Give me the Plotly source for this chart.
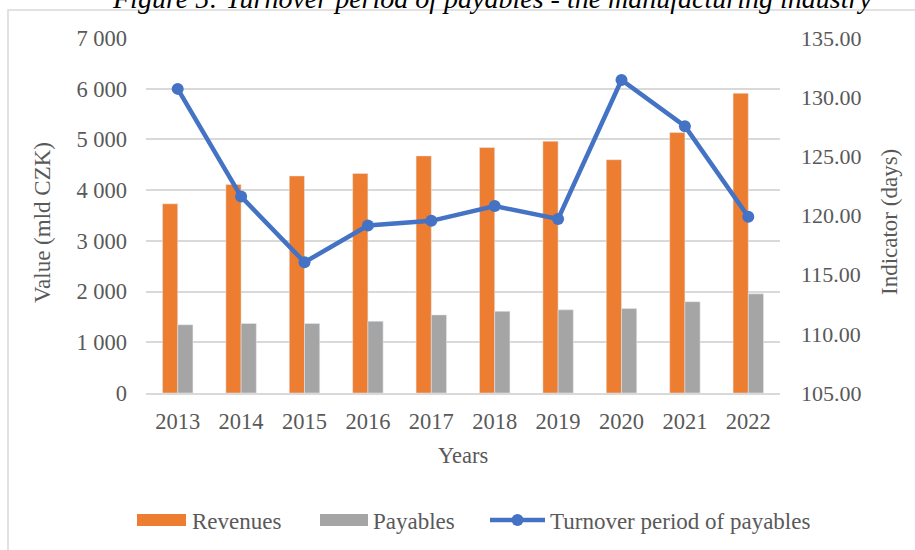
import plotly.graph_objects as go

years = ["2013", "2014", "2015", "2016", "2017", "2018", "2019", "2020", "2021", "2022"]
revenues = [3730, 4110, 4280, 4330, 4675, 4840, 4965, 4600, 5135, 5910]
payables = [1345, 1370, 1370, 1415, 1540, 1610, 1640, 1665, 1800, 1955]
turnover = [130.7, 121.6, 116.05, 119.15, 119.55, 120.8, 119.7, 131.45, 127.55, 119.9]

left_ticks = [0, 1000, 2000, 3000, 4000, 5000, 6000, 7000]
right_ticks = [105, 110, 115, 120, 125, 130, 135]

title_text = "Figure 5: Turnover period of payables - the manufacturing industry"
legend_names = ["Revenues", "Payables", "Turnover period of payables"]

C_REV = "#ED7D31"
C_PAY = "#A5A5A5"
C_LINE = "#4472C4"
C_TXT = "#595959"
C_GRID = "#D9D9D9"
FONT = "Liberation Serif"

W, H = 915, 550
L, R, T, B = 146, 135, 38, 157
PW, PH = W - L - R, H - T - B


def px(x):
    return (x - L) / PW


def py(y):
    return (H - B - y) / PH


fig = go.Figure()
fig.add_trace(go.Bar(x=years, y=revenues, name=legend_names[0], marker_color=C_REV,
                     showlegend=False))
fig.add_trace(go.Bar(x=years, y=payables, name=legend_names[1], marker_color=C_PAY,
                     showlegend=False))
fig.add_trace(go.Scatter(x=years, y=turnover, name=legend_names[2], yaxis="y2",
                         mode="lines+markers", line=dict(color=C_LINE, width=4.5),
                         marker=dict(color=C_LINE, size=12), showlegend=False))

tick_font = dict(family=FONT, size=22.5, color=C_TXT)
title_font = dict(family=FONT, size=23, color=C_TXT)
legend_font = dict(family=FONT, size=23, color=C_TXT)

fig.update_layout(
    width=W, height=H,
    margin=dict(l=L, r=R, t=T, b=B, pad=0),
    paper_bgcolor="white", plot_bgcolor="white",
    separators=". ",
    barmode="group", bargap=0.52, bargroupgap=0,
    xaxis=dict(type="category", range=[-0.5, len(years) - 0.5], showgrid=False,
               showline=True, linecolor=C_GRID, linewidth=1.5, ticks="",
               tickfont=tick_font, ticklabelstandoff=7, fixedrange=True),
    yaxis=dict(range=[0, 7000], tickvals=left_ticks, tickformat=",", showgrid=True,
               gridcolor=C_GRID, gridwidth=1.5, zeroline=False, showline=False,
               ticks="", tickfont=tick_font, ticklabelstandoff=18),
    yaxis2=dict(range=[105, 135], tickvals=right_ticks, tickformat=".2f",
                overlaying="y", side="right", showgrid=False, zeroline=False,
                showline=False, ticks="", tickfont=dict(tick_font, size=22),
                ticklabelstandoff=20),
    showlegend=False,
)

ann = []
# title (partly cut off at the top, as in the source image)
ann.append(dict(text="<i>" + title_text + "</i>", xref="paper", yref="paper",
                x=px(491.5), y=py(16), xanchor="center", yanchor="bottom",
                showarrow=False, font=dict(family=FONT, size=28, color="black")))
# axis titles
ann.append(dict(text="Value (mld CZK)", xref="paper", yref="paper", x=px(42),
                y=py(223), xanchor="center", yanchor="middle", textangle=-90,
                showarrow=False, font=title_font))
ann.append(dict(text="Indicator (days)", xref="paper", yref="paper", x=px(889),
                y=py(222), xanchor="center", yanchor="middle", textangle=-90,
                showarrow=False, font=title_font))
ann.append(dict(text="Years", xref="paper", yref="paper", x=px(463),
                y=py(455.5), xanchor="center", yanchor="middle",
                showarrow=False, font=tick_font))
# legend texts
for xt, name in zip([190, 371, 547.5], legend_names):
    ann.append(dict(text=name, xref="paper", yref="paper", x=px(xt), y=py(521),
                    xanchor="left", yanchor="middle", showarrow=False, font=legend_font))

shapes = []
# outer frame
shapes.append(dict(type="rect", xref="paper", yref="paper", x0=px(8), x1=px(930),
                   y0=py(10), y1=py(570), line=dict(color=C_GRID, width=1.5),
                   fillcolor="rgba(0,0,0,0)", layer="below"))
# legend swatches
shapes.append(dict(type="rect", xref="paper", yref="paper", x0=px(137), x1=px(186),
                   y0=py(526), y1=py(514), line=dict(width=0), fillcolor=C_REV))
shapes.append(dict(type="rect", xref="paper", yref="paper", x0=px(320), x1=px(368),
                   y0=py(526), y1=py(514), line=dict(width=0), fillcolor=C_PAY))
shapes.append(dict(type="line", xref="paper", yref="paper", x0=px(490), x1=px(545),
                   y0=py(520), y1=py(520), line=dict(color=C_LINE, width=4.5)))
shapes.append(dict(type="circle", xref="paper", yref="paper", x0=px(511.5), x1=px(523.5),
                   y0=py(526), y1=py(514), line=dict(width=0), fillcolor=C_LINE))

fig.update_layout(annotations=ann, shapes=shapes)
fig.write_html("out.html", config={"displayModeBar": False},
               post_script="document.body.style.margin='0px';"
                           "document.body.style.overflow='hidden';")
